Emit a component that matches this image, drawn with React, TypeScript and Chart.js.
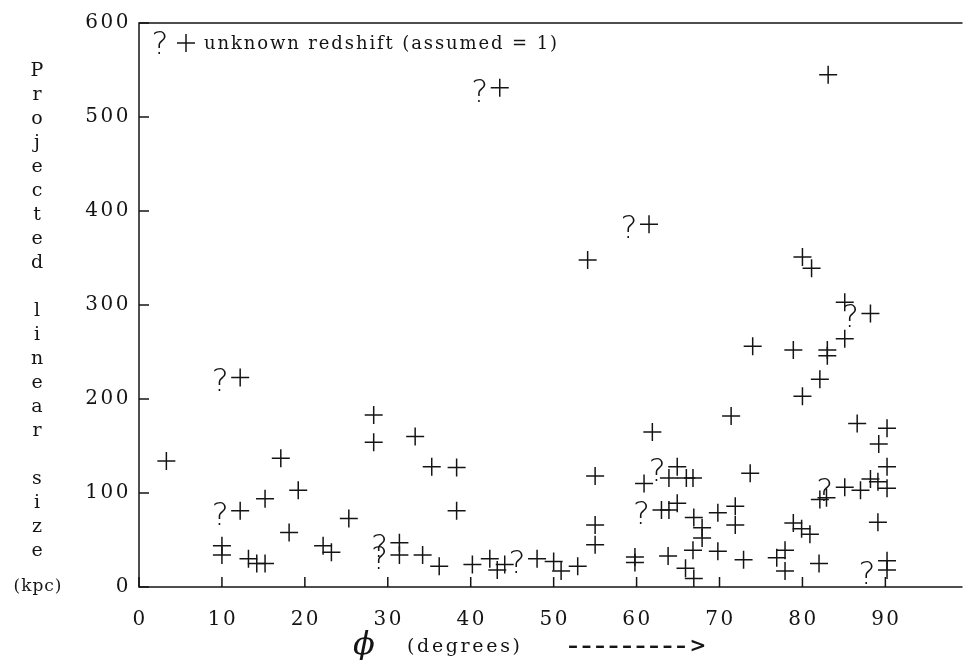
import React, { useEffect, useRef } from "react";
import { Chart, registerables } from "chart.js";

Chart.register(...registerables);

// Angle phi (degrees) and projected linear size (kpc), redshift known
const knownPhi = [
  3.3, 17.1, 19.2, 15.2, 18.1, 10, 10, 13.2, 14.2, 15.2, 22.2, 23.2, 25.3,
  28.3, 28.3, 33.3, 35.3, 38.3, 38.3, 34.2, 36.2, 40.2, 42.3, 43.2, 44.1,
  50, 50.9, 52.9, 54.1, 55, 55, 55, 59.8, 59.8, 60.9, 61.9,
  63.9, 66, 66.8, 63.9, 64.9, 66.9, 67.9, 67.9, 66.8, 63.8, 65.9, 66.9,
  69.8, 71.9, 71.9, 69.8, 72.9, 71.4, 73.7, 74,
  78.9, 83, 83, 85.1, 82.1, 80, 86.6, 90.2, 89.2, 90.2,
  88.2, 89.1, 90.2, 87, 82.9, 82.1, 89.1, 78.9, 79.9, 80.9, 77.9, 76.9, 77.9, 82, 90.2,
  80, 81.1, 85.1, 83.1,
];
const knownSize = [
  134, 137, 103, 94, 58, 44, 34, 30, 25, 25, 44, 37, 73,
  183, 154, 160, 128, 127, 81, 34, 22, 24, 30, 18, 24,
  27, 17, 22, 348, 118, 66, 45, 32, 26, 110, 165,
  116, 116, 116, 82, 89, 74, 63, 52, 39, 33, 20, 9,
  79, 86, 66, 38, 29, 182, 121, 256,
  252, 252, 246, 264, 221, 203, 174, 169, 152, 128,
  115, 112, 105, 103, 95, 93, 69, 68, 62, 56, 39, 31, 17, 25, 28,
  351, 339, 303, 545,
];

// Unknown redshift (assumed = 1), marked with "?"
const unknownPhi = [12.2, 12.2, 31.4, 31.4, 43.5, 48, 61.5, 64.9, 63, 85.1, 90.2, 88.2];
const unknownSize = [223, 81, 47, 34, 531, 30, 386, 128, 82, 106, 18, 291];

const xTickValues = [0, 10, 20, 30, 40, 50, 60, 70, 80, 90];
const yTickValues = [0, 100, 200, 300, 400, 500, 600];

const yTitleLines = ["P", "r", "o", "j", "e", "c", "t", "e", "d", "", "l", "i", "n", "e", "a", "r", "", "s", "i", "z", "e"];
const legendText = "unknown redshift (assumed = 1)";
const xTitleSymbol = "\u03D5";
const xTitleText = "(degrees)";
const xTitleArrow = "\u2013\u2013\u2013\u2013\u2013\u2013\u2013\u2013\u2013>";

const INK = "#141414";
const QFONT = '200 32px "DejaVu Sans", "Liberation Sans", sans-serif';
const SERIF = '"DejaVu Serif", "Liberation Serif", serif';

function fitSpacing(ctx: any, text: string, width: number) {
  ctx.letterSpacing = "0px";
  const w = ctx.measureText(text).width;
  return (width - w) / Math.max(1, text.length - 1);
}

const decorPlugin = {
  id: "decor",
  afterDraw(chart: any) {
    const { ctx, chartArea: a, scales } = chart;
    const xs = scales.x;
    const ys = scales.y;
    ctx.save();
    ctx.strokeStyle = INK;
    ctx.fillStyle = INK;
    ctx.lineWidth = 1.5;

    // frame: left axis, bottom axis, top line
    ctx.beginPath();
    ctx.moveTo(a.right, a.top);
    ctx.lineTo(a.left, a.top);
    ctx.lineTo(a.left, a.bottom);
    ctx.lineTo(a.right, a.bottom);
    ctx.stroke();

    // inward tick marks
    ctx.beginPath();
    xTickValues.forEach((v) => {
      const px = xs.getPixelForValue(v);
      ctx.moveTo(px, a.bottom);
      ctx.lineTo(px, a.bottom - 10);
    });
    yTickValues.forEach((v) => {
      const py = ys.getPixelForValue(v);
      ctx.moveTo(a.left, py);
      ctx.lineTo(a.left + 10, py);
    });
    ctx.stroke();

    // tick labels
    ctx.font = "20px " + SERIF;
    ctx.letterSpacing = "2.5px";
    ctx.textBaseline = "middle";
    ctx.textAlign = "center";
    xTickValues.forEach((v) => {
      const px = xs.getPixelForValue(v);
      ctx.fillText(String(v), px + 1, a.bottom + 33);
    });
    ctx.textAlign = "right";
    yTickValues.forEach((v) => {
      const py = ys.getPixelForValue(v);
      ctx.fillText(String(v), a.left - 8, py);
    });
    ctx.letterSpacing = "0px";

    // question marks beside unknown-redshift points
    ctx.font = QFONT;
    ctx.textAlign = "center";
    ctx.textBaseline = "alphabetic";
    const meta = chart.getDatasetMeta(1);
    meta.data.forEach((el: any) => {
      ctx.fillText("?", el.x - 20, el.y + 14);
    });

    // legend inside plot
    ctx.fillText("?", 160, 54);
    ctx.beginPath();
    ctx.moveTo(177, 43);
    ctx.lineTo(195, 43);
    ctx.moveTo(186, 34);
    ctx.lineTo(186, 52);
    ctx.stroke();
    ctx.font = "18px " + SERIF;
    ctx.textAlign = "left";
    let ls = fitSpacing(ctx, legendText, 353);
    ctx.letterSpacing = ls + "px";
    ctx.fillText(legendText, 204, 49);
    ctx.letterSpacing = "0px";

    // y title, stacked letters
    ctx.font = "19px " + SERIF;
    ctx.textAlign = "center";
    yTitleLines.forEach((ch, i) => {
      if (ch) ctx.fillText(ch, 37, 76 + 24 * i);
    });
    ctx.font = "17px " + SERIF;
    ctx.letterSpacing = "1px";
    ctx.fillText("(kpc)", 38, 591);
    ctx.letterSpacing = "0px";

    // x title
    ctx.font = "italic 32px " + SERIF;
    ctx.textAlign = "center";
    ctx.fillText(xTitleSymbol, 364, 654);
    ctx.font = "19px " + SERIF;
    ctx.textAlign = "left";
    ls = fitSpacing(ctx, xTitleText, 113);
    ctx.letterSpacing = ls + "px";
    ctx.fillText(xTitleText, 407, 652);
    ctx.font = "bold 20px " + SERIF;
    ctx.letterSpacing = "3.5px";
    ctx.fillText(xTitleArrow, 568, 652);
    ctx.letterSpacing = "0px";

    ctx.restore();
  },
};

export default function App() {
  const ref = useRef<HTMLCanvasElement | null>(null);

  useEffect(() => {
    if (!ref.current) return;
    const known = knownPhi.map((x, i) => ({ x, y: knownSize[i] }));
    const unknown = unknownPhi.map((x, i) => ({ x, y: unknownSize[i] }));
    const chart = new Chart(ref.current, {
      type: "scatter",
      data: {
        datasets: [
          {
            label: "known redshift",
            data: known,
            pointStyle: "cross",
            pointRadius: 9,
            pointBorderWidth: 1.5,
            borderColor: INK,
            backgroundColor: INK,
          },
          {
            label: "unknown redshift (assumed = 1)",
            data: unknown,
            pointStyle: "cross",
            pointRadius: 9,
            pointBorderWidth: 1.5,
            borderColor: INK,
            backgroundColor: INK,
          },
        ],
      },
      options: {
        responsive: false,
        animation: false,
        events: [],
        layout: { padding: { top: 23, left: 0, right: 0, bottom: 0 } },
        plugins: {
          legend: { display: false },
          tooltip: { enabled: false },
          title: { display: false },
        },
        scales: {
          x: {
            type: "linear",
            min: 0,
            max: 99.3,
            grid: { display: false },
            border: { display: false },
            ticks: { display: false, stepSize: 10, includeBounds: false },
            afterFit: (s: any) => {
              s.height = 73;
            },
          },
          y: {
            type: "linear",
            min: 0,
            max: 600,
            grid: { display: false },
            border: { display: false },
            ticks: { display: false, stepSize: 100 },
            afterFit: (s: any) => {
              s.width = 139;
            },
          },
        },
      },
      plugins: [decorPlugin],
    });
    return () => chart.destroy();
  }, []);

  return (
    <div style={{ position: "fixed", left: 0, top: 0, width: 973, height: 660, background: "#fff" }}>
      <canvas ref={ref} width={973} height={660} style={{ display: "block" }} />
    </div>
  );
}
